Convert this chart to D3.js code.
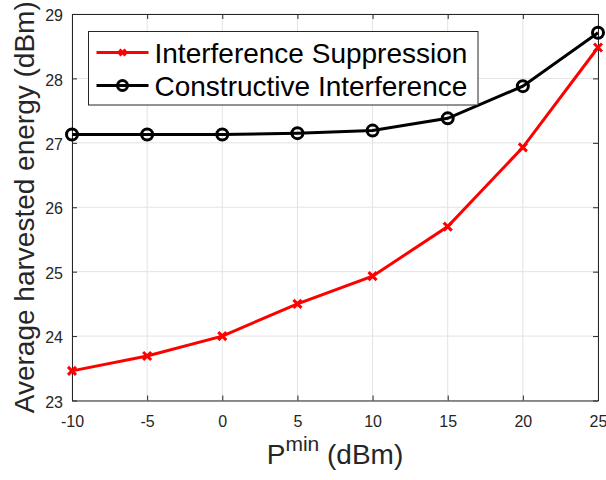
<!DOCTYPE html>
<html>
<head>
<meta charset="utf-8">
<script src="https://cdn.jsdelivr.net/npm/d3@7"></script>
<style>
    body { margin: 0; background: #fff; }
    svg { display: block; font-family: "Liberation Sans", Arial, sans-serif; }
</style>
</head>
<body>
<div id="chart"></div>
<script>
const xValues = [-10, -5, 0, 5, 10, 15, 20, 25]
const suppression = [23.46, 23.69, 24.0, 24.5, 24.93, 25.7, 26.93, 28.48]
const constructive = [27.13, 27.13, 27.13, 27.15, 27.19, 27.38, 27.88, 28.71]
const xTicks = [-10, -5, 0, 5, 10, 15, 20, 25]
const yTicks = [23, 24, 25, 26, 27, 28, 29]
const seriesNames = ["Interference Suppression", "Constructive Interference"]
const seriesColors = ["#ff0000", "#000000"]

let width = 606,
    height = 480,
    margin = {top: 14, right: 8, bottom: 79.5, left: 72},
    axisColor = "#262626",
    gridColor = "#e3e3e3",
    plainNumber = d => String(d)

let svg = d3.select("#chart")
    .append("svg")
    .attr("width", width)
    .attr("height", height)

let x = d3.scaleLinear()
    .domain([-10, 25])
    .range([margin.left, width - margin.right])

let y = d3.scaleLinear()
    .domain([23, 29])
    .range([height - margin.bottom, margin.top])


// grid
svg.append("g")
    .selectAll("line")
    .data(xTicks)
    .join("line")
    .attr("x1", d => x(d)).attr("x2", d => x(d))
    .attr("y1", y(23)).attr("y2", y(29))
    .attr("stroke", gridColor)

svg.append("g")
    .selectAll("line")
    .data(yTicks)
    .join("line")
    .attr("x1", x(-10)).attr("x2", x(25))
    .attr("y1", d => y(d)).attr("y2", d => y(d))
    .attr("stroke", gridColor)


// axes, ticks pointing inwards on all four sides
function styleAxis(g) {
    g.select(".domain").attr("stroke", axisColor)
    g.selectAll(".tick line").attr("stroke", axisColor)
    g.selectAll(".tick text")
        .attr("fill", axisColor)
        .style("font-size", "16px")
        .style("font-family", "'Liberation Sans', Arial, sans-serif")
}

svg.append("g")
    .attr("transform", `translate(0,${y(23)})`)
    .call(d3.axisBottom(x).tickValues(xTicks).tickFormat(plainNumber).tickSizeInner(-5).tickSizeOuter(0).tickPadding(15))
    .call(styleAxis)

svg.append("g")
    .attr("transform", `translate(0,${y(29)})`)
    .call(d3.axisTop(x).tickValues(xTicks).tickFormat("").tickSizeInner(-5).tickSizeOuter(0))
    .call(styleAxis)

svg.append("g")
    .attr("transform", `translate(${x(-10)},0)`)
    .call(d3.axisLeft(y).tickValues(yTicks).tickFormat(plainNumber).tickSizeInner(-5).tickSizeOuter(0).tickPadding(9))
    .call(styleAxis)
    .selectAll(".tick text").attr("dy", "0.42em")

svg.append("g")
    .attr("transform", `translate(${x(25)},0)`)
    .call(d3.axisRight(y).tickValues(yTicks).tickFormat("").tickSizeInner(-5).tickSizeOuter(0))
    .call(styleAxis)


// series
let line = d3.line()
    .x((d, i) => x(xValues[i]))
    .y(d => y(d))

function crossPath(cx, cy, r) {
    return `M${cx - r},${cy - r}L${cx + r},${cy + r}M${cx - r},${cy + r}L${cx + r},${cy - r}`
}

svg.append("path")
    .datum(suppression)
    .attr("d", line)
    .attr("fill", "none")
    .attr("stroke", seriesColors[0])
    .attr("stroke-width", 3)

svg.append("g")
    .selectAll("path")
    .data(suppression)
    .join("path")
    .attr("d", (d, i) => crossPath(x(xValues[i]), y(d), 4))
    .attr("stroke", seriesColors[0])
    .attr("stroke-width", 3)

svg.append("path")
    .datum(constructive)
    .attr("d", line)
    .attr("fill", "none")
    .attr("stroke", seriesColors[1])
    .attr("stroke-width", 3)

svg.append("g")
    .selectAll("circle")
    .data(constructive)
    .join("circle")
    .attr("cx", (d, i) => x(xValues[i]))
    .attr("cy", d => y(d))
    .attr("r", 5.5)
    .attr("fill", "none")
    .attr("stroke", seriesColors[1])
    .attr("stroke-width", 3)


// legend
let legend = svg.append("g")
    .attr("transform", "translate(88.5,31.5)")

legend.append("rect")
    .attr("width", 389.5)
    .attr("height", 73.5)
    .attr("fill", "#fff")
    .attr("stroke", axisColor)
    .attr("stroke-width", 1)

let entries = legend.selectAll(".entry")
    .data(seriesNames)
    .join("g")
    .attr("class", "entry")
    .attr("transform", (d, i) => `translate(0,${21 + i * 33})`)

entries.append("line")
    .attr("x1", 8).attr("x2", 60)
    .attr("stroke", (d, i) => seriesColors[i])
    .attr("stroke-width", 3)

entries.filter((d, i) => i === 0)
    .append("path")
    .attr("d", crossPath(34, 0, 3))
    .attr("stroke", seriesColors[0])
    .attr("stroke-width", 3)

entries.filter((d, i) => i === 1)
    .append("circle")
    .attr("cx", 34)
    .attr("r", 5)
    .attr("fill", "none")
    .attr("stroke", seriesColors[1])
    .attr("stroke-width", 3)

entries.append("text")
    .attr("x", 66)
    .attr("dy", "0.36em")
    .attr("fill", "#000")
    .style("font-size", "28px")
    .text(d => d)


// axis labels
let xLabel = svg.append("text")
    .attr("x", (x(-10) + x(25)) / 2)
    .attr("y", 464.3)
    .attr("text-anchor", "middle")
    .attr("fill", axisColor)
    .style("font-size", "28px")
    .style("white-space", "pre")

xLabel.append("tspan").text("P")
xLabel.append("tspan").attr("dy", -13).style("font-size", "21px").text("min")
xLabel.append("tspan").attr("dy", 13).text(" (dBm)")

svg.append("text")
    .attr("transform", `translate(33.5,${(y(23) + y(29)) / 2}) rotate(-90)`)
    .attr("text-anchor", "middle")
    .attr("fill", axisColor)
    .style("font-size", "28px")
    .text("Average harvested energy (dBm)")
</script>
</body>
</html>
